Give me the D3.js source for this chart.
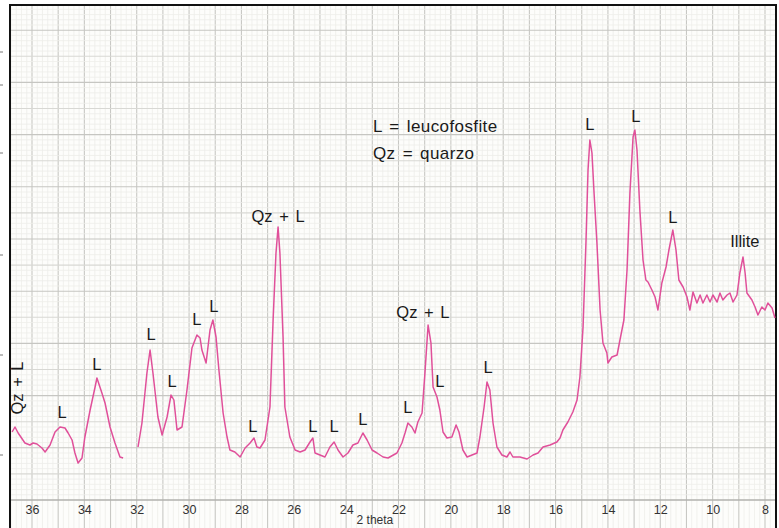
<!DOCTYPE html>
<html>
<head>
<meta charset="utf-8">
<title>XRD leucofosfite</title>
<style>
  body { margin: 0; background: #fff; }
  svg { display: block; font-family: "Liberation Sans", Arial, sans-serif; }
  .scan { fill: none; stroke: #e0509a; stroke-width: 1.5; stroke-linejoin: round; }
  .lbl { fill: #1a1a1a; font-size: 16.5px; word-spacing: 2px; }
  .leg { font-size: 17px; letter-spacing: 0.4px; }
</style>
</head>
<body>
<script src="https://cdnjs.cloudflare.com/ajax/libs/d3/7.8.5/d3.min.js"></script>
<script>
// 2-theta (deg) and intensity (arbitrary counts)
// first piece of trace (pen lifted after ~32.5)
var scan1Theta = [36.76,36.65,36.53,36.27,36.08,35.96,35.81,35.62,35.50,35.31,35.12,34.93,34.74,34.62,34.47,34.36,34.24,34.09,33.98,33.78,33.59,33.52,33.33,33.21,33.02,32.83,32.64,32.52];
var scan1Counts = [68,73,67,57,55,57,56,52,48,55,68,73,72,67,60,47,37,42,63,90,113,122,107,97,73,57,43,42];

// second piece, 32 -> 7.6
var scan2Theta = [31.95,31.80,31.61,31.49,31.38,31.19,31.03,30.84,30.69,30.58,30.46,30.27,30.08,29.89,29.70,29.58,29.51,29.35,29.20,29.09,28.97,28.86,28.70,28.55,28.44,28.25,28.05,27.86,27.67,27.52,27.41,27.29,27.10,26.91,26.79,26.68,26.60,26.53,26.41,26.34,26.15,25.95,25.76,25.57,25.38,25.27,25.19,25.00,24.81,24.62,24.46,24.31,24.12,23.93,23.74,23.55,23.36,23.20,23.01,22.82,22.59,22.40,22.06,21.87,21.75,21.64,21.49,21.37,21.26,21.10,20.99,20.87,20.76,20.68,20.53,20.42,20.30,20.15,19.96,19.80,19.69,19.54,19.38,19.19,19.00,18.89,18.73,18.62,18.51,18.39,18.24,18.05,17.86,17.74,17.63,17.36,17.09,16.86,16.67,16.48,16.21,15.95,15.83,15.72,15.53,15.34,15.18,15.07,14.95,14.84,14.76,14.69,14.61,14.53,14.42,14.30,14.19,14.04,14.00,13.85,13.65,13.54,13.39,13.27,13.16,13.04,12.97,12.89,12.78,12.66,12.55,12.47,12.32,12.20,12.09,11.94,11.78,11.67,11.52,11.40,11.29,11.13,10.98,10.87,10.75,10.60,10.48,10.37,10.22,10.10,9.99,9.83,9.72,9.61,9.45,9.34,9.22,9.07,8.96,8.84,8.76,8.69,8.50,8.38,8.27,8.12,8.00,7.89,7.73,7.62];
var scan2Counts = [53,77,127,150,127,83,65,83,105,100,70,73,110,152,165,162,150,137,170,180,163,130,87,63,50,48,43,52,57,62,53,52,60,93,180,247,273,247,163,93,63,50,48,50,58,62,47,45,43,53,58,50,43,47,55,57,67,60,50,47,43,42,47,57,67,77,73,67,78,87,127,175,157,113,103,90,68,62,63,75,68,50,43,45,47,63,93,118,110,77,53,45,43,48,43,43,41,45,47,53,55,58,62,70,78,88,100,123,173,257,330,360,347,307,257,190,157,147,137,143,145,160,180,230,307,363,370,350,290,240,220,218,210,203,190,217,233,250,270,250,220,213,203,190,208,197,205,197,205,198,205,198,207,200,205,207,198,205,227,243,227,207,200,193,185,193,190,197,192,182];

// peak labels: text, 2-theta, intensity of label baseline
var labelText  = ["L","L","L","L","L","L","Qz + L","L","L","L","L","L","Qz + L","L","L","L","L","L","Illite"];
var labelTheta = [34.85,33.52,31.45,30.65,29.70,29.05,26.60,27.56,25.27,24.46,23.36,21.64,21.07,20.42,18.58,14.69,12.93,11.52,8.77];
var labelCount = [82,130,160,113,175,188,278,68,68,68,75,87,182,113,127,370,378,277,253];

var xTicks = [36,34,32,30,28,26,24,22,20,18,16,14,12,10,8];
var legendLines = ["L = leucofosfite", "Qz = quarzo"];

var W = 779, H = 528;
var frame = {left: 10, top: 5, right: 776, bottom: 500};

var x = d3.scaleLinear().domain([36, 8]).range([32, 765]);
var y = d3.scaleLinear().domain([0, 500]).range([500, 0]);

var svg = d3.select("body").append("svg")
    .attr("width", W)
    .attr("height", H);

// chart paper
svg.append("rect")
    .attr("x", frame.left).attr("y", frame.top)
    .attr("width", frame.right - frame.left).attr("height", H - frame.top)
    .attr("fill", "#fdfdfb");

var paper = svg.append("g");
var xMin = x.invert(frame.left), xMax = x.invert(frame.right);

// fine grid, 0.2 deg
d3.range(Math.ceil(xMax * 5), Math.floor(xMin * 5) + 1).forEach(function(k) {
  var t = k / 5, major = (k % 5 === 0);
  paper.append("line")
      .attr("x1", x(t)).attr("x2", x(t))
      .attr("y1", frame.top).attr("y2", H)
      .attr("stroke", major ? "#c8c8c4" : "#eeeeea")
      .attr("stroke-width", major ? 1.1 : 0.8);
});
// horizontal: fine rows, darker every 5th / 10th
var rowStep = 52.2 / 10;
d3.range(0, 100).forEach(function(k) {
  var v = k * rowStep;
  if (y(v) < frame.top) return;
  var cls = k % 10 === 0 ? 2 : (k % 5 === 0 ? 1 : 0);
  paper.append("line")
      .attr("x1", frame.left).attr("x2", frame.right)
      .attr("y1", y(v)).attr("y2", y(v))
      .attr("stroke", ["#eeeeea", "#d8d8d4", "#c6c6c2"][cls])
      .attr("stroke-width", cls ? 1.1 : 0.8);
});
// baseline of the paper
paper.append("line")
    .attr("x1", frame.left).attr("x2", frame.right)
    .attr("y1", y(0)).attr("y2", y(0))
    .attr("stroke", "#a8a8a4").attr("stroke-width", 1.2);

// frame
svg.append("path")
    .attr("d", "M" + frame.left + "," + H + "V" + frame.top + "H" + frame.right + "V" + H)
    .attr("fill", "none").attr("stroke", "#111").attr("stroke-width", 2);

// little marks left of frame
[52, 85, 153, 255, 355, 455].forEach(function(py) {
  svg.append("line").attr("x1", 0).attr("x2", 3).attr("y1", py).attr("y2", py)
     .attr("stroke", "#777").attr("stroke-width", 1);
});

// trace
var line = d3.line()
    .x(function(d) { return x(d[0]); })
    .y(function(d) { return y(d[1]); });

[[scan1Theta, scan1Counts], [scan2Theta, scan2Counts]].forEach(function(s) {
  svg.append("path")
      .attr("class", "scan")
      .attr("d", line(d3.zip(s[0], s[1])));
});

// x axis labels
var axis = svg.append("g")
    .attr("transform", "translate(0," + y(0) + ")")
    .call(d3.axisBottom(x).tickValues(xTicks).tickSize(0).tickPadding(5));
axis.select(".domain").remove();
axis.selectAll("text")
    .attr("font-family", "Liberation Sans, Arial, sans-serif")
    .attr("font-size", 12.5).attr("fill", "#333");

svg.append("text")
    .attr("x", x(22.9)).attr("y", 524)
    .attr("text-anchor", "middle")
    .attr("fill", "#333").attr("font-size", 12)
    .text("2  theta");

// peak labels
svg.selectAll(".pk")
    .data(d3.range(labelText.length))
  .enter().append("text")
    .attr("class", "lbl pk")
    .attr("x", function(i) { return x(labelTheta[i]); })
    .attr("y", function(i) { return y(labelCount[i]); })
    .attr("text-anchor", "middle")
    .text(function(i) { return labelText[i]; });

// vertical label at far left
svg.append("text")
    .attr("class", "lbl")
    .attr("transform", "translate(" + (x(36.53) + 5) + "," + y(112) + ") rotate(-90)")
    .attr("text-anchor", "middle")
    .text("Qz + L");

// legend
svg.selectAll(".leg")
    .data(legendLines)
  .enter().append("text")
    .attr("class", "lbl leg")
    .attr("x", 373)
    .attr("y", function(d, i) { return 132 + i * 27; })
    .text(function(d) { return d; });
</script>
</body>
</html>
